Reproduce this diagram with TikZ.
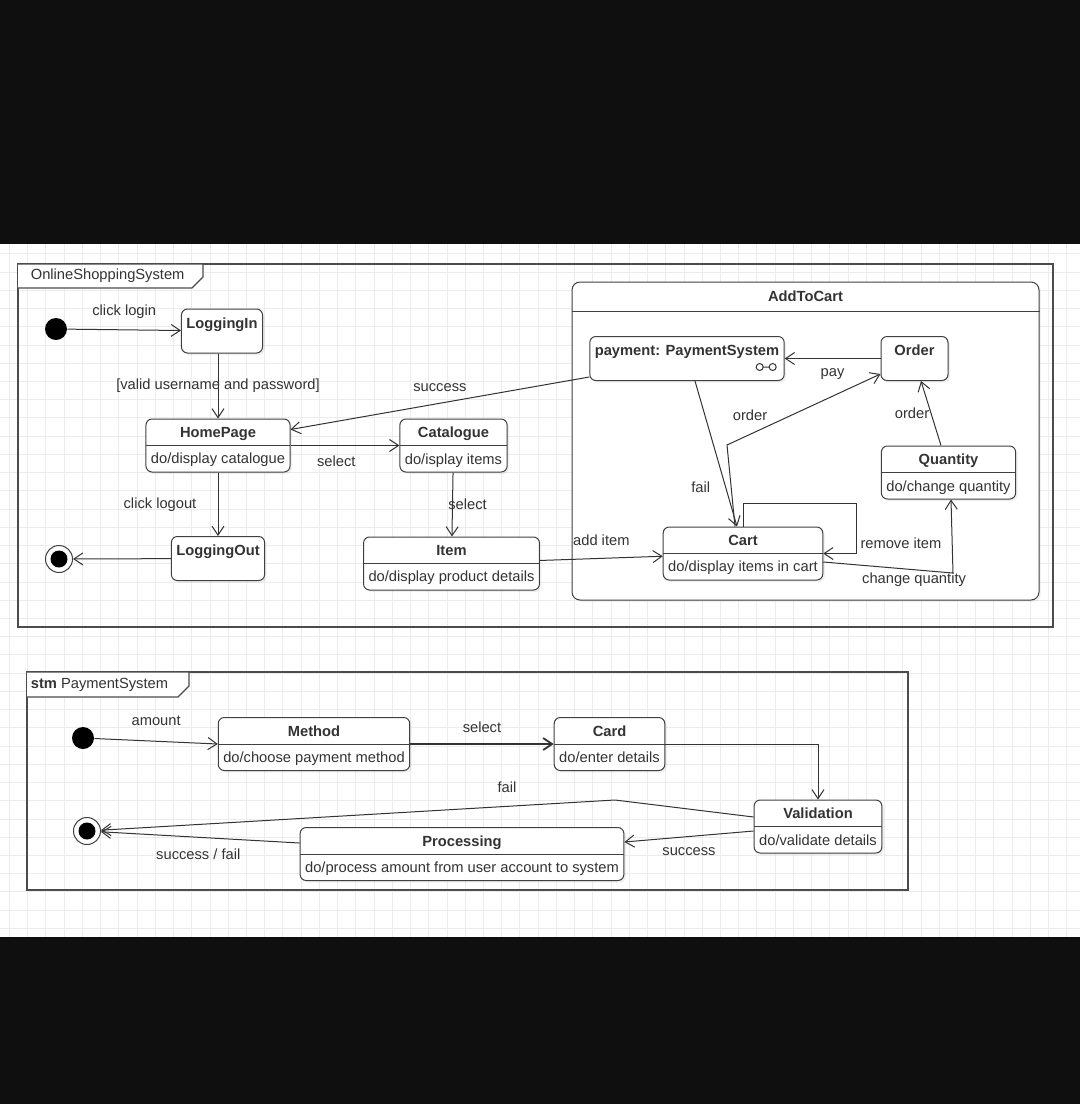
\documentclass[tikz,border=0pt]{standalone}
\usepackage{fontspec}
\setmainfont{Liberation Sans}
\usetikzlibrary{arrows.meta,shadows}

\begin{document}
\begin{tikzpicture}[x=1pt, y=-1pt, line width=1pt, color=black!80,
    font=\fontsize{14.7}{17}\selectfont,
    >={Straight Barb[length=9pt,width=12pt]}]
    \tikzstyle{state} = [draw=black!75, fill=white, rounded corners=6pt, font=\fontsize{14.7}{17}\selectfont\bfseries, inner xsep=5pt, inner ysep=3pt, text height=16pt, text depth=22pt, drop shadow={opacity=0.12, shadow xshift=2pt, shadow yshift=-2pt}]
    \tikzstyle{cstate} = [draw=black!75, fill=white, rounded corners=6pt, align=center, minimum height=53pt, inner xsep=5pt, text depth=0pt, font=\fontsize{14.7}{26.5}\selectfont, drop shadow={opacity=0.12, shadow xshift=2pt, shadow yshift=-2pt}, path picture={\draw [black!75, line width=1pt] (path picture bounding box.west) -- (path picture bounding box.east);}]
    \tikzstyle{composite} = [draw=black!75, fill=white, rounded corners=8pt, minimum width=467pt, minimum height=318pt, drop shadow={opacity=0.10, shadow xshift=2pt, shadow yshift=-2pt}]
    \tikzstyle{startdot} = [circle, fill=black, minimum size=22pt, inner sep=0pt]
    \tikzstyle{enddot} = [circle, draw=black!75, fill=white, minimum size=27pt, inner sep=0pt, path picture={\fill [black] (path picture bounding box.center) circle (8.5pt);}]
    \tikzstyle{lbl} = [inner sep=1pt]
    \tikzstyle{frame} = [draw=black!70, line width=1.6pt]

    \fill [black!94] (0,0) rectangle (1080,244);
    \fill [white] (0,244) rectangle (1080,937);
    \fill [black!94] (0,937) rectangle (1080,1104);
    \useasboundingbox (0,0) rectangle (1080,1104);
    \foreach \i in {0,...,58}
        \draw [gray!15, line width=0.6pt] ({9.33+18.23*\i},244) -- ({9.33+18.23*\i},937);
    \foreach \j in {13,...,50}
        \draw [gray!15, line width=0.6pt] (0,{16.7+18.23*\j}) -- (1080,{16.7+18.23*\j});

    \draw [frame] (18,264) rectangle (1053,627);
    \draw [frame, line width=1.2pt, fill=white] (18,264) -- (203,264) -- (203,277) -- (192,288) -- (18,288);
    \node (shopname) [anchor=west] at (27,276) {OnlineShoppingSystem};

    \draw [frame] (27,672) rectangle (908,890);
    \draw [frame, line width=1.2pt, fill=white] (27,672) -- (189,672) -- (189,686) -- (178,697) -- (27,697);
    \node (payname) [anchor=west] at (27,685) {\textbf{stm} PaymentSystem};

    \node (addtocart) [composite] at (805.5,441) {};
    \node (cartname) [font=\fontsize{14.7}{17}\selectfont\bfseries] at (805.5,296) {AddToCart};
    \draw [black!75] (addtocart.west |- 0,311) -- (addtocart.east |- 0,311);

    \node (start1) [startdot] at (56,329) {};
    \node (login) [state] at (222,331) {LoggingIn};
    \node (home) [cstate] at (218,445.5) {\textbf{HomePage}\\do/display catalogue};
    \node (catal) [cstate] [node distance=235.5pt, right of = home] {\textbf{Catalogue}\\do/isplay items};
    \node (logout) [state] [node distance=113pt, below of = home] {LoggingOut};
    \node (end1) [enddot] at (59,559) {};
    \node (item) [cstate] at (451.5,563.5) {\textbf{Item}\\do/display product details};
    \node (pay) [state, minimum width=194pt] at (687,358.5) {payment: PaymentSystem};
    \node (order) [state, minimum width=67pt] [node distance=227.5pt, right of = pay] {Order};
    \node (quant) [cstate] at (948.5,472.5) {\textbf{Quantity}\\do/change quantity};
    \node (cart) [cstate] at (743,553.5) {\textbf{Cart}\\do/display items in cart};
    \draw [line width=1pt] ([xshift=-25pt, yshift=14pt]pay.south east) circle (3.5pt) ++(3.5,0) -- ++(6,0) ++(3.5,0) circle (3.5pt);

    \coordinate (obend) at (727,445);
    \coordinate (qbend) at (953,573);
    \coordinate (rloop) at (856,503);

    \draw [->] (start1) -- node [lbl, midway, yshift=18pt] {click login} (login);
    \draw [->] (login.south -| home.north) -- node [lbl, midway] {[valid username and password]} (home);
    \draw [->] ([yshift=4pt]pay.south west) -- node [lbl, midway, yshift=15.5pt] {success} ([yshift=-11pt]home.north east);
    \draw [->] (home) -- node [lbl, pos=0.42, yshift=-16pt] {select} (catal);
    \draw [->] (home) -- node [lbl, midway, xshift=-58pt] {click logout} (logout);
    \draw [->] (logout) -- (end1);
    \draw [->] (catal) -- node [lbl, midway, xshift=15pt] {select} (item);
    \draw [->] (item) -- node [lbl, midway, yshift=18pt] {add item} (cart);
    \draw [->] ([xshift=8pt]pay.south) -- node [lbl, pos=0.73, xshift=-25pt] {fail} ([xshift=-6pt]cart.north);
    \draw [->] ([xshift=-8pt]cart.north) -- (obend) -- node [lbl, pos=0.15, yshift=19pt] {order} ([yshift=7pt]order.south west);
    \draw [->] (order) -- node [lbl, midway, yshift=-16pt] {pay} (pay);
    \draw [->] ([xshift=-7.5pt]quant.north) -- node [lbl, midway, xshift=-19pt] {order} ([xshift=6.5pt]order.south);
    \draw [->] ([yshift=-8.5pt]cart.east) -- node [lbl, pos=0.7, yshift=-10pt] {change quantity} (qbend) -- ([xshift=2.5pt]quant.south);
    \draw [->] (cart.north) |- (rloop) |- node [lbl, pos=0.4, anchor=west, xshift=3pt] {remove item} (cart.east);

    \node (start2) [startdot] at (83,738) {};
    \node (method) [cstate] at (314,744) {\textbf{Method}\\do/choose payment method};
    \node (card) [cstate] [node distance=295.5pt, right of = method] {\textbf{Card}\\do/enter details};
    \node (valid) [cstate] at (818,826.5) {\textbf{Validation}\\do/validate details};
    \node (proc) [cstate] at (462,854) {\textbf{Processing}\\do/process amount from user account to system};
    \node (end2) [enddot] at (87,831) {};

    \coordinate (fbend) at (615,800);

    \draw [->] (start2) -- node [lbl, midway, yshift=20pt] {amount} (method.west);
    \draw [->, line width=1.8pt] (method) -- node [lbl, midway, yshift=17pt] {select} (card);
    \draw [->] (card) -| (valid);
    \draw [->] ([yshift=9.5pt]valid.west) -- (fbend) -- node [lbl, pos=0.21, yshift=19pt] {fail} (end2);
    \draw [->] ([yshift=-4.5pt]valid.west) -- node [lbl, midway, yshift=-15pt] {success} ([yshift=12pt]proc.east);
    \draw [->] ([yshift=11pt]proc.west) -- node [lbl, midway, yshift=-17pt, xshift=-2pt] {success / fail} (end2);
\end{tikzpicture}
\end{document}
